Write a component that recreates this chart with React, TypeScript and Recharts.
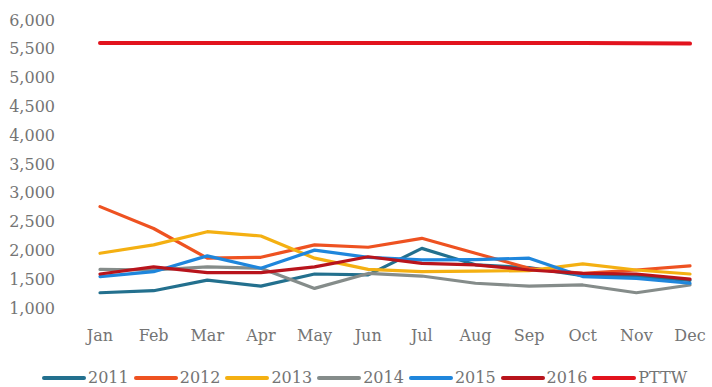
import React from "react";
import { Legend, Line, LineChart, XAxis, YAxis } from "recharts";

const months = ["Jan", "Feb", "Mar", "Apr", "May", "Jun", "Jul", "Aug", "Sep", "Oct", "Nov", "Dec"];
const yTicks = [1000, 1500, 2000, 2500, 3000, 3500, 4000, 4500, 5000, 5500, 6000];

const s2011 = [1265, 1300, 1485, 1380, 1590, 1575, 2035, 1750, 1700, 1560, 1550, 1480];
const s2012 = [2760, 2380, 1865, 1880, 2095, 2055, 2210, 1950, 1690, 1600, 1660, 1730];
const s2013 = [1950, 2095, 2325, 2250, 1865, 1670, 1630, 1640, 1650, 1765, 1660, 1590];
const s2014 = [1670, 1660, 1715, 1690, 1340, 1600, 1555, 1430, 1380, 1400, 1265, 1400];
const s2015 = [1545, 1630, 1905, 1690, 2005, 1880, 1835, 1840, 1865, 1545, 1515, 1430];
const s2016 = [1590, 1715, 1615, 1615, 1715, 1890, 1775, 1750, 1660, 1600, 1590, 1500];
const pttw = [5600, 5600, 5600, 5600, 5600, 5600, 5600, 5600, 5600, 5600, 5595, 5590];

const series = [
  { key: "2011", values: s2011, color: "#23708e", width: 3.2 },
  { key: "2012", values: s2012, color: "#ee5221", width: 3.2 },
  { key: "2013", values: s2013, color: "#f4b012", width: 3.2 },
  { key: "2014", values: s2014, color: "#858c8a", width: 3.2 },
  { key: "2015", values: s2015, color: "#1f86dc", width: 3.2 },
  { key: "2016", values: s2016, color: "#b8141c", width: 3.2 },
  { key: "PTTW", values: pttw, color: "#e2131d", width: 4 },
];

const data = months.map((m, i) => {
  const row: Record<string, string | number> = { name: m };
  series.forEach((s) => (row[s.key] = s.values[i]));
  return row;
});

const font = "DejaVu Serif";
const textColor = "#747474";

function renderLegend() {
  return (
    <div style={{ display: "flex", justifyContent: "flex-start", paddingLeft: 42, paddingTop: 10, fontFamily: font, fontSize: 16, color: textColor }}>
      {series.map((s) => (
        <div key={s.key} style={{ display: "flex", alignItems: "center", marginRight: 5 }}>
          <div style={{ width: 44, height: 4, borderRadius: 2, background: s.color, marginRight: 2 }} />
          <span>{s.key}</span>
        </div>
      ))}
    </div>
  );
}

export default function App() {
  return (
    <div style={{ position: "absolute", left: 0, top: 0, background: "#fff" }}>
      <LineChart width={712} height={387} data={data} margin={{ top: 20, right: 0, left: 0, bottom: 0 }}>
        <XAxis
          dataKey="name"
          axisLine={false}
          tickLine={false}
          tickSize={0}
          tickMargin={22}
          height={50}
          padding={{ left: 38, right: 22 }}
          tick={{ fill: textColor, fontSize: 16, fontFamily: font }}
          interval={0}
        />
        <YAxis
          domain={[1000, 6000]}
          ticks={yTicks}
          axisLine={false}
          tickLine={false}
          tickSize={0}
          tickMargin={7}
          width={62}
          tickFormatter={(v: number) => v.toLocaleString("en-US")}
          tick={{ fill: textColor, fontSize: 16, fontFamily: font }}
          interval={0}
        />
        <Legend verticalAlign="bottom" height={29} content={renderLegend} />
        {series.map((s) => (
          <Line
            key={s.key}
            type="linear"
            dataKey={s.key}
            stroke={s.color}
            strokeWidth={s.width}
            dot={false}
            isAnimationActive={false}
            strokeLinejoin="round"
            strokeLinecap="round"
          />
        ))}
      </LineChart>
    </div>
  );
}
